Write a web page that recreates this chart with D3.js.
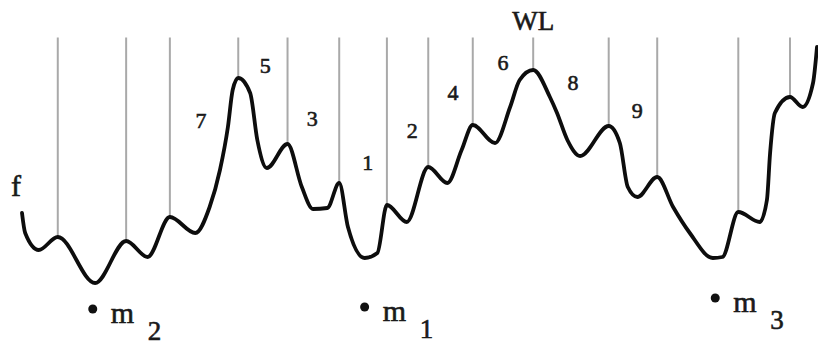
<!DOCTYPE html>
<html>
<head>
<meta charset="utf-8">
<script src="https://cdn.jsdelivr.net/npm/d3@7"></script>
<style>
  html, body { margin: 0; padding: 0; background: #fff; }
  svg { display: block; }
  text { font-family: "Liberation Serif", "Times New Roman", serif; fill: #1a1a1a; stroke: #1a1a1a; stroke-width: 0.6px; }
</style>
</head>
<body>
<svg id="chart" width="818" height="345"></svg>
<script>
// Landscape f along the position axis (abstract units)
const posX = [0, 0.4, 2.1, 4.5, 9.2, 13.1, 15.8, 18.6, 21.8, 23.6, 24.9, 25.9, 26.5, 27.2,
  28.7, 29.6, 30.8, 33.4, 35.2, 36.6, 38.4, 39.9, 41.0, 43.1, 44.7, 45.9, 48.4, 51.1,
  53.5, 55.3, 56.7, 59.5, 61.4, 62.6, 64.3, 66.4, 67.3, 68.6, 70.2, 73.8, 75.2, 76.2,
  77.4, 79.9, 81.9, 84.0, 86.9, 88.1, 90.1, 92.8, 93.7, 94.1, 94.7, 96.6, 98.2, 99.5, 100];
const fVal = [30.8, 22.8, 16, 21.2, 2.8, 19.6, 13.2, 29.2, 22.8, 33.2, 48, 65.2, 80, 84.8,
  78.8, 60, 48.8, 58.4, 41.2, 32.4, 32.8, 42.8, 25.2, 12.8, 14.8, 34, 27.2, 49.2,
  42.8, 56, 66, 58.8, 73.2, 84, 88, 77.2, 70.8, 60, 53.6, 65.6, 58.8, 41.2,
  37.2, 45.2, 33.2, 22.8, 12.8, 13.2, 31.2, 27.2, 36, 54.8, 70.8, 77.2, 73.2, 82.8, 97.2];

// Local maxima that carry a vertical marker line
const peakX = [4.5, 13.1, 18.6, 27.2, 33.4, 39.9, 45.9, 51.1, 56.7, 64.3, 73.8, 79.9, 90.1, 96.6];
const lineTop = 101;

// Number labels between the marker lines
const numText = ["7", "5", "3", "1", "2", "4", "6", "8", "9", "WL", "f"];
const numX = [22.5, 30.6, 36.5, 43.5, 49.1, 54.2, 60.5, 69.3, 77.4, 64.3, -0.75];
const numY = [68, 90, 68.8, 51.2, 64, 79.2, 91.2, 83.2, 72, 107.6, 42];
const numSize = [22, 22, 22, 22, 22, 22, 22, 22, 22, 27, 30];

// Minima labels m_i
const minSub = ["2", "1", "3"];
const minX = [8.9, 43.1, 87.2];
const minY = [-7.6, -6.8, -3.2];

const svg = d3.select("#chart");
const x = d3.scaleLinear().domain([0, 100]).range([22, 817]);
const y = d3.scaleLinear().domain([0, 100]).range([290, 40]);

const pts = posX.map((p, i) => ({ p, f: fVal[i] }));
const fAt = p => pts.find(d => d.p === p).f;

// Vertical marker lines from the top down to each peak
svg.append("g")
  .selectAll("line")
  .data(peakX)
  .join("line")
  .attr("x1", d => x(d)).attr("x2", d => x(d))
  .attr("y1", y(lineTop))
  .attr("y2", d => y(fAt(d)))
  .attr("stroke", "#a9a9a9")
  .attr("stroke-width", 2);

// Curve f
const line = d3.line()
  .x(d => x(d.p))
  .y(d => y(d.f))
  .curve(d3.curveMonotoneX);

svg.append("path")
  .datum(pts)
  .attr("d", line)
  .attr("fill", "none")
  .attr("stroke", "#0d0d0d")
  .attr("stroke-width", 3.8)
  .attr("stroke-linejoin", "round")
  .attr("stroke-linecap", "round");

// Labels
svg.append("g")
  .selectAll("text")
  .data(numText)
  .join("text")
  .attr("x", (d, i) => x(numX[i]))
  .attr("y", (d, i) => y(numY[i]))
  .attr("text-anchor", "middle")
  .attr("dominant-baseline", "central")
  .attr("font-size", (d, i) => numSize[i])
  .text(d => d);

// Minima markers: dot, "m" and subscript
const mins = svg.append("g")
  .selectAll("g")
  .data(minSub)
  .join("g")
  .attr("transform", (d, i) => `translate(${x(minX[i])},${y(minY[i])})`);

mins.append("circle")
  .attr("r", 4.5)
  .attr("fill", "#111");

mins.append("text")
  .attr("x", 18).attr("y", 14)
  .attr("font-size", 30)
  .text("m");

mins.append("text")
  .attr("x", 55).attr("y", 31)
  .attr("font-size", 27)
  .text(d => d);
</script>
</body>
</html>
